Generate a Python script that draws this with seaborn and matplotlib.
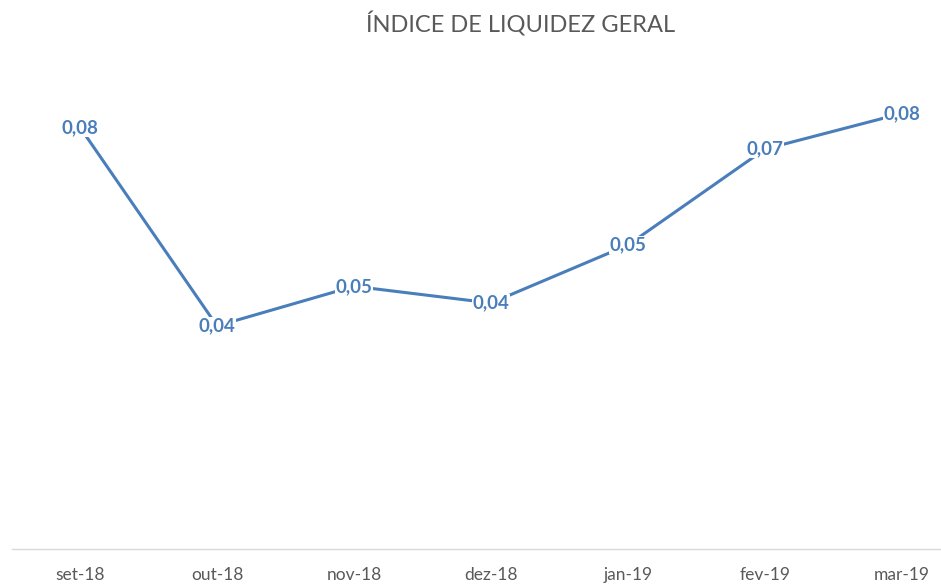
import matplotlib
matplotlib.use("Agg")
import matplotlib.pyplot as plt
import seaborn as sns
import pandas as pd

categories = ["set-18", "out-18", "nov-18", "dez-18", "jan-19", "fev-19", "mar-19"]
values = [0.0756, 0.0400, 0.0471, 0.0441, 0.0545, 0.0717, 0.0781]
title = "ÍNDICE DE LIQUIDEZ GERAL"

df = pd.DataFrame({"mes": categories, "valor": values})

sns.set_theme(style="white")
plt.rcParams["font.family"] = ["Lato", "DejaVu Sans"]

fig = plt.figure(figsize=(9.41, 5.84), dpi=100)
W, H = 941, 584
left_px, right_px = 11.5, 970.5
top_px, bottom_px = 47, 549
ax = fig.add_axes([left_px / W, (H - bottom_px) / H, (right_px - left_px) / W, (bottom_px - top_px) / H])

line_color = "#4A7EBB"
sns.lineplot(data=df, x="mes", y="valor", ax=ax, color=line_color, linewidth=2.2, sort=False)

for i, v in enumerate(values):
    ax.text(i, v, f"{v:.2f}".replace(".", ","), ha="center", va="center",
            fontsize=13.5, fontweight="bold", color=line_color,
            bbox=dict(facecolor="white", edgecolor="none", pad=0.5))

ax.set_xlim(-0.5, len(categories) - 0.5)
ax.set_ylim(0, 0.09)
ax.set_yticks([])
ax.set_xlabel("")
ax.set_ylabel("")
for s in ["top", "right", "left"]:
    ax.spines[s].set_visible(False)
ax.spines["bottom"].set_color("#D9D9D9")
ax.spines["bottom"].set_linewidth(1)
ax.tick_params(axis="x", length=0, pad=13, labelsize=12.5, labelcolor="#595959")

fig.text(521 / W, 1 - 24 / H, title, ha="center", va="center", fontsize=17, color="#595959")

fig.savefig("out.png", dpi=100)
